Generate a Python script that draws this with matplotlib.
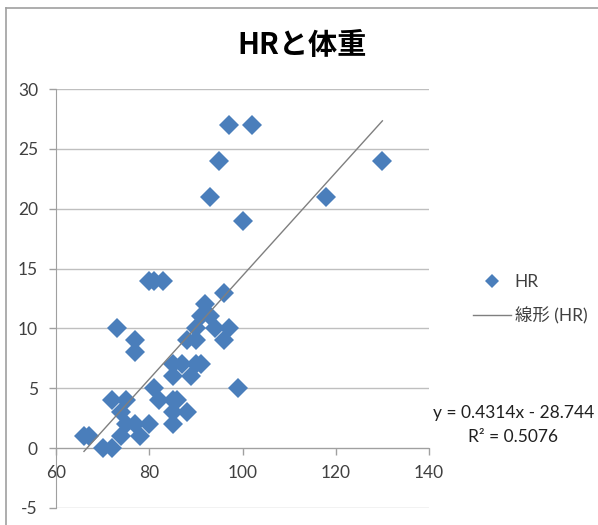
import matplotlib
matplotlib.use("Agg")
import matplotlib.pyplot as plt
from matplotlib.lines import Line2D
import numpy as np

plt.rcParams['font.family'] = ['Lato', 'Noto Sans CJK JP', 'DejaVu Sans']

title = "HRと体重"
series_name = "HR"
trend_label = "線形 (HR)"
weight = [66, 67, 70, 72, 72, 73, 75, 74, 75, 74, 77, 78, 80, 77, 77,
          80, 81, 83, 81, 82, 85, 87, 85, 85, 86, 85, 85, 88, 89, 88,
          90, 90, 91, 90, 91, 92, 93, 94, 96, 97, 96, 99, 97, 102, 95,
          93, 100, 118, 130]
hr = [1, 1, 0, 0, 4, 10, 4, 3, 2, 1, 2, 1, 2, 9, 8,
      14, 14, 14, 5, 4, 7, 7, 6, 4, 4, 3, 2, 3, 6, 9,
      9, 7, 7, 10, 11, 12, 11, 10, 9, 10, 13, 5, 27, 27, 24,
      21, 19, 21, 24]
slope = 0.4314
intercept = -28.744
r2 = 0.5076
xticks = [60, 80, 100, 120, 140]
yticks = [-5, 0, 5, 10, 15, 20, 25, 30]

W, H = 598, 525
fig = plt.figure(figsize=(W / 100, H / 100), dpi=100)
ax = fig.add_axes([56 / W, 1 - 508 / H, (429 - 56) / W, (508 - 89) / H])

blue = '#4A7EBB'
sc, = ax.plot(weight, hr, linestyle='none', marker='D', markersize=10,
              color=blue, markeredgewidth=0, label=series_name, zorder=3)
xs = np.array([min(weight), max(weight)])
tl, = ax.plot(xs, slope * xs + intercept, color='#7F7F7F', linewidth=1.0,
              label=trend_label, zorder=4)

ax.set_xlim(60, 140)
ax.set_ylim(-5, 30)
ax.set_xticks(xticks)
ax.set_yticks(yticks)
ax.set_xticklabels([str(v) for v in xticks])
ax.set_yticklabels([str(v) for v in yticks])
ax.grid(axis='y', color='#BFBFBF', linewidth=1.0)
ax.set_axisbelow(True)
for s in ['top', 'right']:
    ax.spines[s].set_visible(False)
ax.spines['bottom'].set_position(('data', 0))
ax.spines['bottom'].set_color('#A0A0A0')
ax.spines['left'].set_color('#A0A0A0')
ax.tick_params(axis='both', colors='#A0A0A0', labelcolor='#404040',
               labelsize=12.5, length=5, width=1, direction='out')
ax.tick_params(axis='x', pad=7)
ax.tick_params(axis='y', pad=8)

fig.text(302 / W, 1 - 45 / H, title, ha='center', va='center', fontsize=21,
         fontweight='bold', family=['Noto Sans CJK JP'], color='black')

leg = fig.legend(handles=[sc, tl], loc='center left',
                 bbox_to_anchor=(459 / W, 1 - 299 / H), frameon=False,
                 fontsize=12.5, handlelength=2.2, handletextpad=0.2,
                 labelspacing=1.0, markerscale=0.7, borderpad=0.3)
for t in leg.get_texts():
    t.set_color('#404040')

fig.text(514 / W, 1 - 413 / H, f"y = {slope}x - {abs(intercept)}",
         ha='center', va='center', fontsize=12.5, color='#202020')
fig.text(513 / W, 1 - 437 / H, f"R² = {r2}",
         ha='center', va='center', fontsize=12.5, color='#202020')

fig.add_artist(Line2D([6 / W, 6 / W], [0, 1 - 8 / H], color='#A0A0A0',
                      linewidth=1.2, transform=fig.transFigure))
fig.add_artist(Line2D([6 / W, 1], [1 - 8 / H, 1 - 8 / H], color='#A0A0A0',
                      linewidth=1.2, transform=fig.transFigure))

fig.savefig('out.png', dpi=100)
